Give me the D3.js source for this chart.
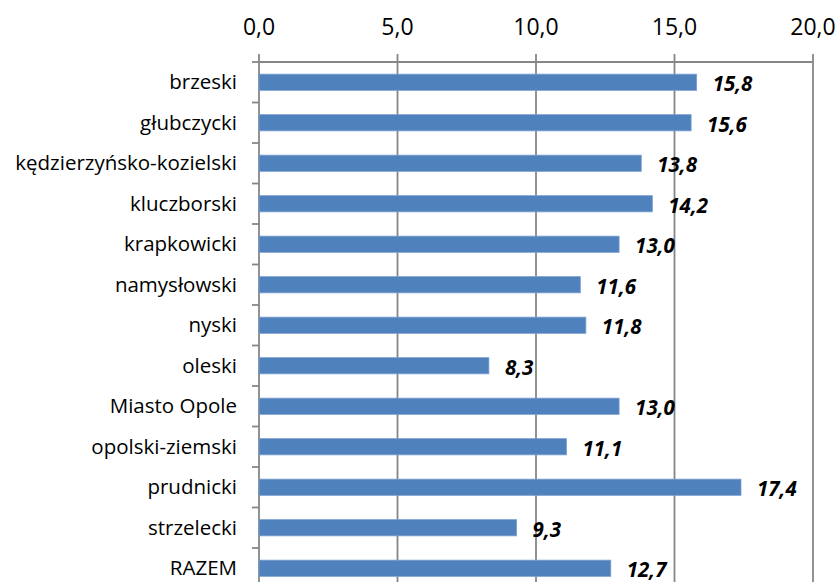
<!DOCTYPE html>
<html>
<head>
<meta charset="utf-8">
<script src="https://cdn.jsdelivr.net/npm/d3@7"></script>
<style>
  body { margin: 0; background: #fff; }
  svg { display: block; }
</style>
</head>
<body>
<div id="chart"></div>
<script>
// data
var categories = ["brzeski", "głubczycki", "kędzierzyńsko-kozielski", "kluczborski",
  "krapkowicki", "namysłowski", "nyski", "oleski", "Miasto Opole",
  "opolski-ziemski", "prudnicki", "strzelecki", "RAZEM"];
var values = [15.8, 15.6, 13.8, 14.2, 13.0, 11.6, 11.8, 8.3, 13.0, 11.1, 17.4, 9.3, 12.7];
var xTicks = [0, 5, 10, 15, 20];

var svgWidth = 838;
var svgHeight = 582;
var margin = {top: 62, left: 259, right: 25};
var plotWidth = 813 - margin.left;
var step = 40.5;
var plotHeight = step * categories.length;

var fmt = function(v) { return v.toFixed(1).replace(".", ","); };

var svg = d3.select("#chart")
  .append("svg")
  .attr("width", svgWidth)
  .attr("height", svgHeight);

var g = svg.append("g")
  .attr("transform", `translate(${margin.left}, ${margin.top})`);

var xScale = d3.scaleLinear()
  .domain([0, 20])
  .range([0, plotWidth]);

var yScale = d3.scaleBand()
  .domain(categories)
  .range([0, plotHeight])
  .paddingInner(0.6)
  .paddingOuter(0.3);

// gridlines (incl. top tick marks)
g.selectAll(".grid")
  .data(xTicks)
  .enter()
  .append("line")
  .attr("x1", d => xScale(d))
  .attr("x2", d => xScale(d))
  .attr("y1", -8)
  .attr("y2", plotHeight)
  .attr("stroke", "#868686")
  .attr("stroke-width", 1.8);

// top axis line
g.append("line")
  .attr("x1", 0)
  .attr("x2", plotWidth)
  .attr("y1", 0)
  .attr("y2", 0)
  .attr("stroke", "#868686")
  .attr("stroke-width", 1.8);

// x tick labels
g.selectAll(".xlab")
  .data(xTicks)
  .enter()
  .append("text")
  .attr("x", d => xScale(d))
  .attr("y", -27)
  .attr("text-anchor", "middle")
  .style("font-family", "'Open Sans', sans-serif")
  .style("font-size", "23px")
  .style("fill", "#000")
  .text(d => fmt(d));

// category tick marks on y axis
var bandStep = yScale.step();
g.selectAll(".ytick")
  .data(d3.range(categories.length + 1))
  .enter()
  .append("line")
  .attr("x1", -7)
  .attr("x2", 0)
  .attr("y1", i => i * bandStep)
  .attr("y2", i => i * bandStep)
  .attr("stroke", "#868686")
  .attr("stroke-width", 1.8);

// bars
g.selectAll(".bar")
  .data(values)
  .enter()
  .append("rect")
  .attr("x", 0)
  .attr("y", (d, i) => yScale(categories[i]))
  .attr("width", d => xScale(d))
  .attr("height", yScale.bandwidth())
  .attr("fill", "#4f81bd")
  .attr("stroke", "#7aa0d0")
  .attr("stroke-width", 0.8);

// category labels
g.selectAll(".ylab")
  .data(categories)
  .enter()
  .append("text")
  .attr("x", -22)
  .attr("y", d => yScale(d) + yScale.bandwidth() / 2)
  .attr("dy", "0.35em")
  .attr("text-anchor", "end")
  .style("font-family", "'Open Sans', sans-serif")
  .style("font-size", "20.5px")
  .style("fill", "#000")
  .text(d => d);

// value labels
g.selectAll(".vlab")
  .data(values)
  .enter()
  .append("text")
  .attr("x", d => xScale(d) + 16)
  .attr("y", (d, i) => yScale(categories[i]) + yScale.bandwidth() / 2 + 2)
  .attr("dy", "0.35em")
  .style("font-family", "'Open Sans', sans-serif")
  .style("font-size", "20.5px")
  .style("font-weight", "bold")
  .style("font-style", "italic")
  .style("fill", "#000")
  .text(d => fmt(d));
</script>
</body>
</html>
